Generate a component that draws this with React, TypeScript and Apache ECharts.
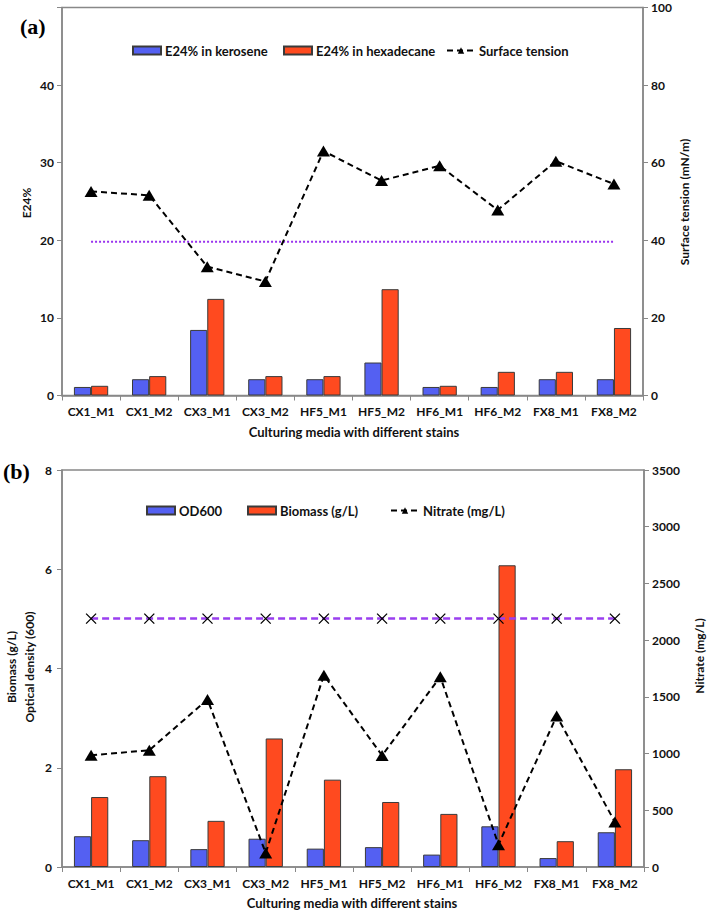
import React, { useEffect, useRef } from 'react';
import * as echarts from 'echarts';

const categories = ['CX1_M1', 'CX1_M2', 'CX3_M1', 'CX3_M2', 'HF5_M1', 'HF5_M2', 'HF6_M1', 'HF6_M2', 'FX8_M1', 'FX8_M2'];

// Panel (a)
const e24Kerosene = [1.1, 2.1, 8.45, 2.1, 2.1, 4.25, 1.1, 1.1, 2.1, 2.1];
const e24Hexadecane = [1.25, 2.5, 12.45, 2.5, 2.5, 13.7, 1.25, 3.05, 3.05, 8.7];
const surfaceTension = [52.6, 51.6, 33.2, 29.4, 63.0, 55.4, 59.2, 47.8, 60.4, 54.5];
const e24Threshold = [19.8, 19.8, 19.8, 19.8, 19.8, 19.8, 19.8, 19.8, 19.8, 19.8];

// Panel (b)
const od600 = [0.62, 0.54, 0.36, 0.57, 0.37, 0.4, 0.25, 0.82, 0.18, 0.7];
const biomass = [1.41, 1.83, 0.93, 2.59, 1.76, 1.31, 1.07, 6.08, 0.52, 1.97];
const nitrate = [985, 1030, 1477, 124, 1691, 983, 1677, 197, 1332, 397];
const initialNitrate = [2190, 2190, 2190, 2190, 2190, 2190, 2190, 2190, 2190, 2190];

const FONT = 'Lato, "Open Sans", sans-serif';
const BLUE = '#5460f2';
const RED = '#ff4a1f';
const AXIS = '#888888';
const TXT = '#111111';

const tickLabel = { fontFamily: FONT, fontSize: 12, fontWeight: 'bold' as const, color: TXT };

function legendAt(name: string, left: number, cy: number) {
  return {
    data: [name],
    left,
    top: cy - 8,
    itemWidth: 28,
    itemHeight: 8,
    padding: 0,
    textStyle: { fontFamily: FONT, fontSize: 13, fontWeight: 'bold' as const, color: TXT, padding: [0, 0, 0, -1] },
  };
}

export default function App() {
  const ref = useRef<HTMLDivElement>(null);
  useEffect(() => {
    if (!ref.current) return;
    const chart = echarts.init(ref.current, undefined, { renderer: 'svg' });
    const xAxisBase = {
      type: 'category' as const,
      data: categories,
      axisLine: { lineStyle: { color: AXIS, width: 1.5 } },
      axisTick: { show: true, length: 5, lineStyle: { color: AXIS } },
      axisLabel: { ...tickLabel, interval: 0, margin: 10 },
    };
    const yBase = (pos: 'left' | 'right') => ({
      type: 'value' as const,
      position: pos,
      splitLine: { show: false },
      axisLine: { show: true, lineStyle: { color: AXIS, width: 1.5 } },
      axisTick: { show: true, length: 5, lineStyle: { color: AXIS } },
    });
    const barStyle = (c: string) => ({ color: c, borderColor: '#3a3a3a', borderWidth: 1 });
    const xSym = 'path://M0,0 L10,10 M10,0 L0,10';
    const plain = (v: number) => String(v);
    chart.setOption({
      animation: false,
      backgroundColor: '#ffffff',
      grid: [
        { left: 62, right: 66, top: 7.5, height: 388, show: true, borderColor: AXIS, borderWidth: 1.5 },
        { left: 62, right: 65, top: 470, height: 397, show: true, borderColor: AXIS, borderWidth: 1.5 },
      ],
      legend: [
        { ...legendAt('E24% in kerosene', 132, 52), icon: 'rect' },
        { ...legendAt('E24% in hexadecane', 283, 52), icon: 'rect' },
        legendAt('Surface tension', 446, 52),
        { ...legendAt('OD600', 146, 512), icon: 'rect' },
        { ...legendAt('Biomass (g/L)', 247, 512), icon: 'rect' },
        legendAt('Nitrate (mg/L)', 390, 512),
      ],
      xAxis: [
        { ...xAxisBase, gridIndex: 0 },
        { ...xAxisBase, gridIndex: 1 },
      ],
      yAxis: [
        {
          ...yBase('left'), gridIndex: 0, min: 0, max: 50, interval: 10,
          axisLabel: { ...tickLabel, margin: 8, formatter: (v: number) => (v >= 50 ? '' : String(v)) },
        },
        { ...yBase('right'), gridIndex: 0, min: 0, max: 100, interval: 20, axisLabel: { ...tickLabel, margin: 8, formatter: plain } },
        { ...yBase('left'), gridIndex: 1, min: 0, max: 8, interval: 2, axisLabel: { ...tickLabel, margin: 10, formatter: plain } },
        { ...yBase('right'), gridIndex: 1, min: 0, max: 3500, interval: 500, axisLabel: { ...tickLabel, margin: 8, formatter: plain } },
      ],
      series: [
        {
          name: 'E24% in kerosene', type: 'bar', xAxisIndex: 0, yAxisIndex: 0, data: e24Kerosene,
          barGap: '0%', barCategoryGap: '41%', itemStyle: barStyle(BLUE),
        },
        {
          name: 'E24% in hexadecane', type: 'bar', xAxisIndex: 0, yAxisIndex: 0, data: e24Hexadecane,
          barGap: '0%', barCategoryGap: '41%', itemStyle: barStyle(RED),
        },
        {
          name: 'E24 threshold', type: 'line', xAxisIndex: 0, yAxisIndex: 0, data: e24Threshold,
          symbol: 'none', lineStyle: { color: '#9933ee', width: 2, type: [2, 2] }, z: 3,
        },
        {
          name: 'Surface tension', type: 'line', xAxisIndex: 0, yAxisIndex: 1, data: surfaceTension,
          symbol: 'triangle', symbolSize: [13, 11], itemStyle: { color: '#000' },
          lineStyle: { color: '#000', width: 2, type: [6, 4] }, z: 4,
        },
        {
          name: 'OD600', type: 'bar', xAxisIndex: 1, yAxisIndex: 2, data: od600,
          barGap: '0%', barCategoryGap: '41%', itemStyle: barStyle(BLUE),
        },
        {
          name: 'Biomass (g/L)', type: 'bar', xAxisIndex: 1, yAxisIndex: 2, data: biomass,
          barGap: '0%', barCategoryGap: '41%', itemStyle: barStyle(RED),
        },
        {
          name: 'Initial nitrate', type: 'line', xAxisIndex: 1, yAxisIndex: 3, data: initialNitrate,
          symbol: xSym, symbolSize: 10, itemStyle: { color: 'none', borderColor: '#000', borderWidth: 1.3 },
          lineStyle: { color: '#9a3ff0', width: 2.5, type: [7, 4] }, z: 3,
        },
        {
          name: 'Nitrate (mg/L)', type: 'line', xAxisIndex: 1, yAxisIndex: 3, data: nitrate,
          symbol: 'triangle', symbolSize: [13, 11], itemStyle: { color: '#000' },
          lineStyle: { color: '#000', width: 2, type: [6, 4] }, z: 4,
        },
      ],
      graphic: [
        { type: 'text', left: 20, top: 15, style: { text: '(a)', font: 'bold 22px "Liberation Serif", "Times New Roman", serif', fill: '#000' } },
        { type: 'text', left: 3, top: 460, style: { text: '(b)', font: 'bold 22px "Liberation Serif", "Times New Roman", serif', fill: '#000' } },
        { type: 'text', x: 26, y: 203, rotation: Math.PI / 2, style: { text: 'E24%', font: `bold 12px ${FONT}`, fill: TXT, align: 'center', verticalAlign: 'middle' } },
        { type: 'text', x: 684, y: 202, rotation: Math.PI / 2, style: { text: 'Surface tension (mN/m)', font: `bold 12px ${FONT}`, fill: TXT, align: 'center', verticalAlign: 'middle' } },
        { type: 'text', x: 354, y: 432, style: { text: 'Culturing media with different stains', font: `bold 13px ${FONT}`, fill: TXT, align: 'center', verticalAlign: 'middle' } },
        { type: 'text', x: 11, y: 667, rotation: Math.PI / 2, style: { text: 'Biomass (g/L)', font: `bold 12px ${FONT}`, fill: TXT, align: 'center', verticalAlign: 'middle' } },
        { type: 'text', x: 29, y: 667, rotation: Math.PI / 2, style: { text: 'Optical density (600)', font: `bold 12px ${FONT}`, fill: TXT, align: 'center', verticalAlign: 'middle' } },
        { type: 'text', x: 699, y: 656, rotation: Math.PI / 2, style: { text: 'Nitrate (mg/L)', font: `bold 12px ${FONT}`, fill: TXT, align: 'center', verticalAlign: 'middle' } },
        { type: 'text', x: 352, y: 903, style: { text: 'Culturing media with different stains', font: `bold 13px ${FONT}`, fill: TXT, align: 'center', verticalAlign: 'middle' } },
      ],
    });
    return () => chart.dispose();
  }, []);
  return <div ref={ref} style={{ position: 'fixed', left: 0, top: 0, width: 709, height: 914, background: '#fff' }} />;
}
